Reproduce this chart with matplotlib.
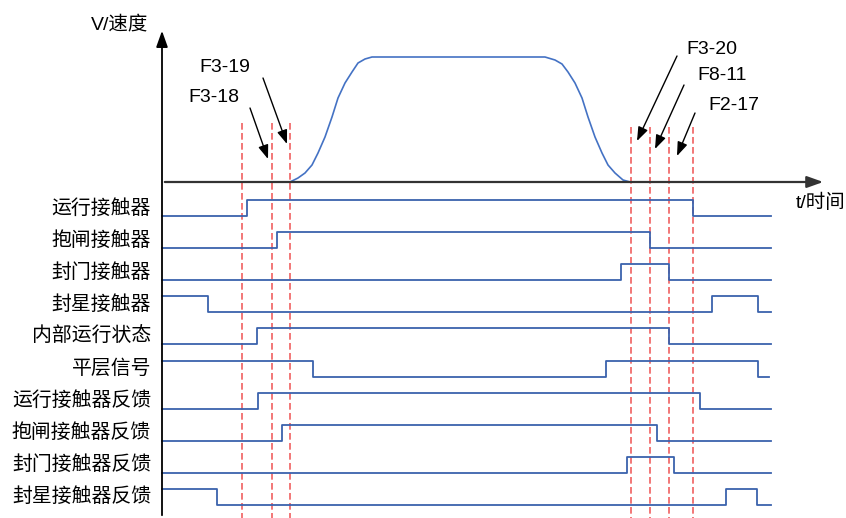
import matplotlib
matplotlib.use('Agg')
import matplotlib.pyplot as plt

plt.rcParams['font.family'] = ['Liberation Sans', 'Noto Sans CJK SC', 'DejaVu Sans']

# speed curve (time, speed above the time axis)
speed_t = [290, 298, 305, 312, 318, 325, 332, 338, 345, 352, 358, 365, 372, 380,
           545, 555, 562, 568, 575, 582, 588, 595, 602, 608, 615, 623, 630]
speed_v = [0, 4, 9, 17, 29, 45, 65, 84, 99, 110, 119, 123, 125, 125,
           125, 122, 118, 110, 99, 84, 65, 45, 29, 17, 9, 2, 0]

# digital signals: name, initial level, toggle times, end time
signal_names = ['运行接触器', '抱闸接触器', '封门接触器', '封星接触器', '内部运行状态',
                '平层信号', '运行接触器反馈', '抱闸接触器反馈', '封门接触器反馈', '封星接触器反馈']
signal_init = [0, 0, 0, 1, 0, 1, 0, 0, 0, 1]
signal_toggles = [[247, 693], [277, 650], [621, 669], [208, 712, 758], [257, 669],
                  [313, 606, 758], [258, 700], [282, 657], [627, 674], [217, 726, 757]]
signal_end = [771, 771, 771, 771, 771, 769, 771, 771, 771, 771]

# parameter markers
marker_t = [242, 272, 290, 631, 650, 669, 693]
param_labels = ['F3-18', 'F3-19', 'F3-20', 'F8-11', 'F2-17']

# layout (pixel-like units)
t0 = 162          # time origin
v0 = 182          # speed baseline
row0 = 216        # low level of first signal
pitch = 32.1
amp = 16

fig = plt.figure(figsize=(8.46, 5.18), dpi=100)
ax = fig.add_axes([0, 0, 1, 1])
ax.set_xlim(0, 846)
ax.set_ylim(518, 0)
ax.axis('off')

# axes with arrows
ax.annotate('', xy=(t0, 28), xytext=(t0, 518),
            arrowprops=dict(arrowstyle='-|>,head_length=0.7,head_width=0.25',
                            color='black', lw=1.3, mutation_scale=14))
ax.annotate('', xy=(826, v0), xytext=(t0, v0),
            arrowprops=dict(arrowstyle='-|>,head_length=0.7,head_width=0.25',
                            color='#333333', lw=1.6, mutation_scale=14))
ax.text(148, 24, 'V/速度', ha='right', va='center', fontsize=14)
ax.text(796, 203, 't/时间', ha='left', va='center', fontsize=14)

# speed curve
ax.plot(speed_t, [v0 - v for v in speed_v], color='#4472c4', lw=1.2)

# dashed red markers
for i, t in enumerate(marker_t):
    top = 123 if i < 3 else 127
    ax.plot([t, t], [top, 518], color='#ee4444', lw=1.2, ls=(0, (4, 2)), alpha=0.85)

# signals
for i, name in enumerate(signal_names):
    low = row0 + i * pitch
    lvl = signal_init[i]
    xs, ys = [t0], [low - amp * lvl]
    for t in signal_toggles[i]:
        xs += [t, t]
        ys += [low - amp * lvl, low - amp * (1 - lvl)]
        lvl = 1 - lvl
    xs.append(signal_end[i])
    ys.append(low - amp * lvl)
    ax.plot(xs, ys, color='#3a62ad', lw=1.3)
    ax.text(151, low - 8, name, ha='right', va='center', fontsize=14.3)

# parameter labels with arrows: (label pos, arrow tail, arrow head)
label_pos = [(188, 97), (199, 68), (686, 49), (697, 75), (708, 106)]
arrow_tail = [(250, 108), (263, 78), (677, 56), (684, 85), (695, 113)]
arrow_head = [(268, 159), (287, 144), (637, 141), (655, 149), (677, 156)]
for lab, p, a, b in zip(param_labels, label_pos, arrow_tail, arrow_head):
    ax.text(p[0], p[1], lab, ha='left', va='center', fontsize=14)
    ax.annotate('', xy=b, xytext=a,
                arrowprops=dict(arrowstyle='-|>,head_length=0.6,head_width=0.22',
                                color='black', lw=1.0, mutation_scale=14,
                                shrinkA=0, shrinkB=0))

fig.savefig('out.png', dpi=100)
